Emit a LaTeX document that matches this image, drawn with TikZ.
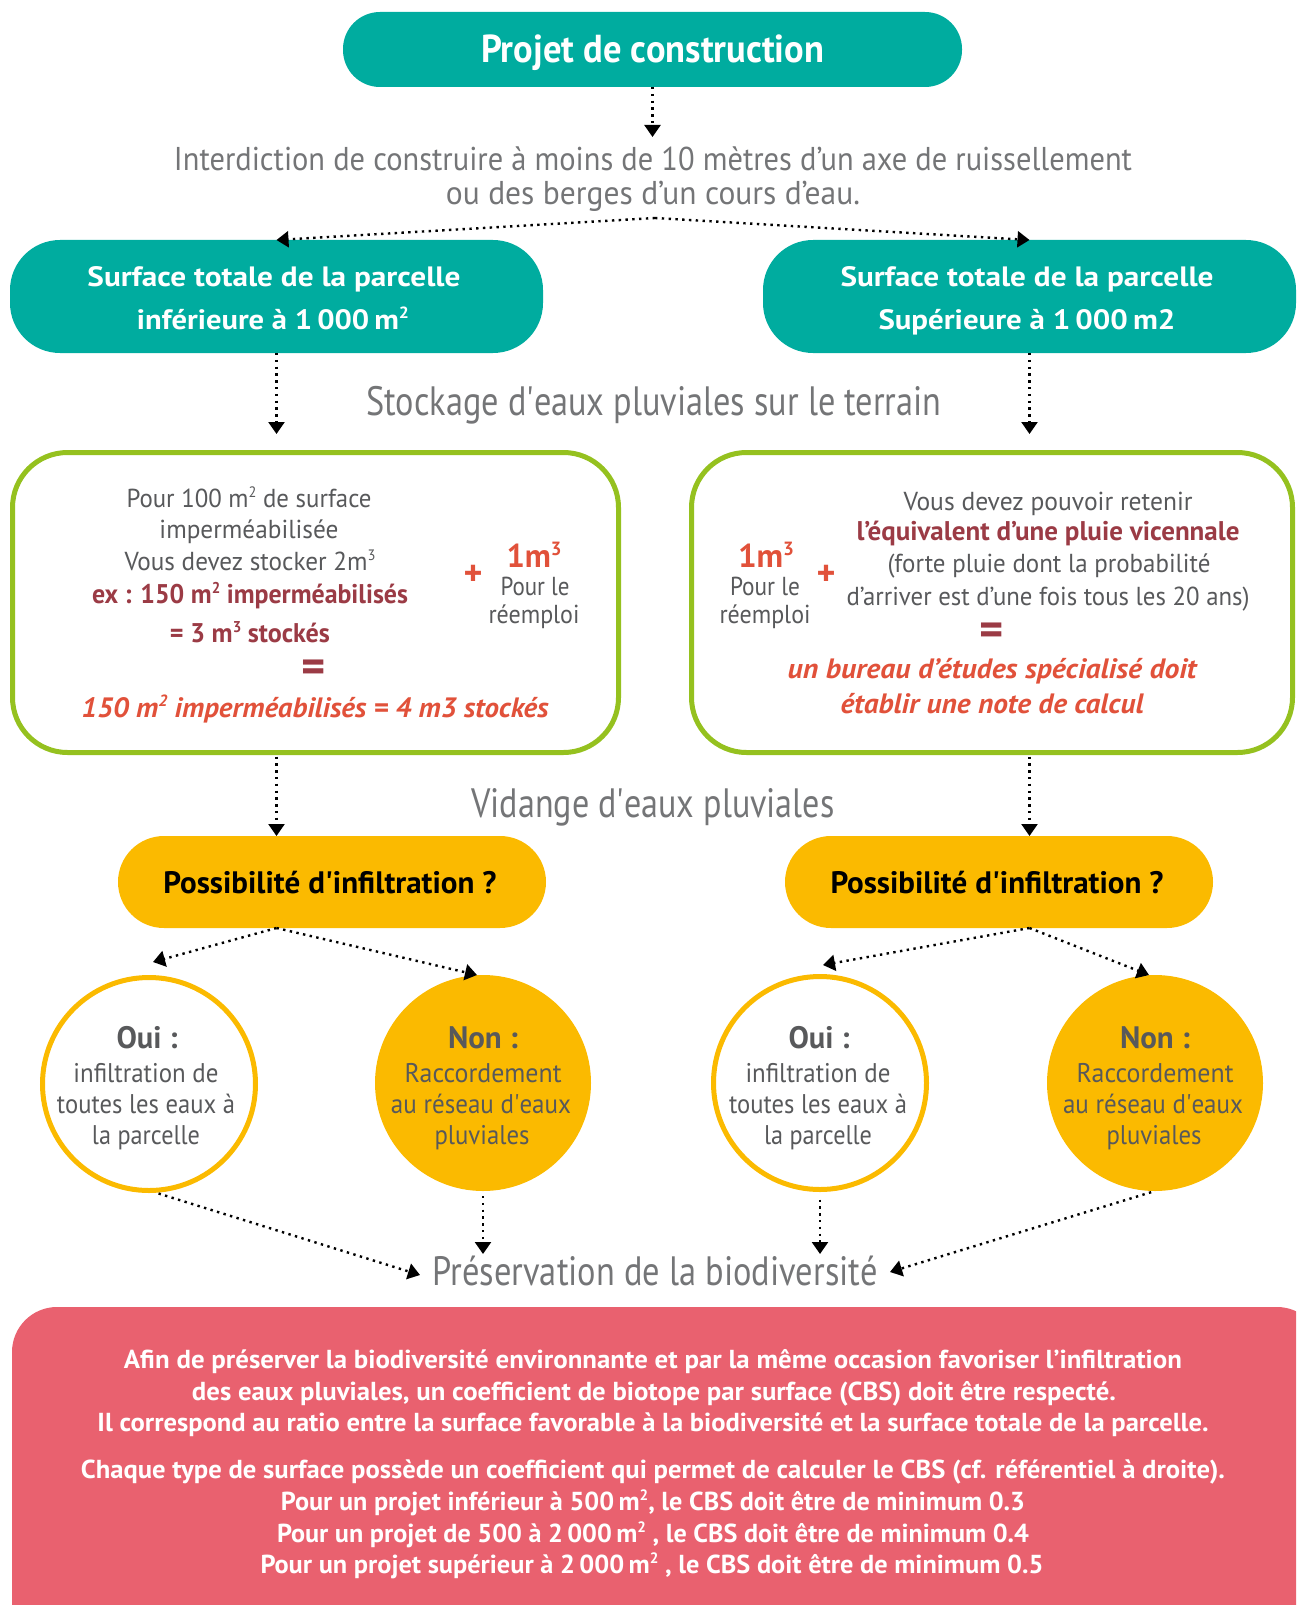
\documentclass[tikz,border=0pt]{standalone}
\usepackage{graphicx}
\usepackage{fontspec}
\setmainfont{PT Sans}
\usetikzlibrary{arrows.meta}
\definecolor{cteal}{HTML}{00AC9F}
\definecolor{cgreen}{HTML}{95C11F}
\definecolor{cyellow}{HTML}{FBBA00}
\definecolor{cpink}{HTML}{E9616F}
\definecolor{cdred}{HTML}{9B3B45}
\definecolor{cred}{HTML}{E1513A}
\definecolor{cgray}{HTML}{58595B}
\definecolor{clgray}{HTML}{747577}
\newcommand{\fw}[2]{\resizebox{#1pt}{\height}{#2}}
\newcommand{\fsz}[1]{\fontsize{#1}{#1}\selectfont}
\newcommand{\mysq}{\textquotesingle}
\newcommand{\sups}[1]{\raisebox{0.36em}{\scalebox{0.58}{#1}}}
\begin{document}
\begin{tikzpicture}[x=1pt,y=-1pt,
  every node/.style={inner sep=0pt, outer sep=0pt},
  dotarrow/.style={line width=2.4pt, dash pattern=on 2.4pt off 4.4pt, -{Triangle[length=12pt,width=16pt]}},
  lbl/.style={anchor=base},
  head/.style={lbl, text=clgray, font=\fsz{41}},
  body/.style={lbl, text=cgray, font=\fsz{26}},
  cbody/.style={lbl, text=cgray, font=\fsz{27}},
  ctitle/.style={lbl, text=cgray, font=\fsz{31}\bfseries},
  tealtxt/.style={lbl, text=white, font=\fsz{28}\bfseries},
  dredtxt/.style={lbl, text=cdred, font=\fsz{27}\bfseries},
  redit/.style={lbl, text=cred, font=\fsz{28}\bfseries\itshape},
  pinktxt/.style={lbl, text=white, font=\fsz{26}\bfseries},
  tealbox/.style={fill=cteal},
  greenbox/.style={draw=cgreen, line width=5pt, fill=white, rounded corners=55pt, minimum height=300pt},
  yellowpill/.style={fill=cyellow, minimum width=428pt, minimum height=92pt, rounded corners=46pt},
  ocircle/.style={circle, draw=cyellow, line width=5pt, fill=white, minimum size=213pt},
  ncircle/.style={circle, fill=cyellow, minimum size=216pt},
  bignum/.style={lbl, text=cred, font=\fsz{33}\bfseries},
  plussign/.style={text=cred, font=\fsz{36}\bfseries},
  eqsign/.style={lbl, text=cdred, font=\fsz{46}\bfseries}
]
\useasboundingbox (0,0) rectangle (1296,1605);
\clip (0,0) rectangle (1296,1605);

% ---------- top ----------
\node[tealbox, minimum width=619pt, minimum height=75pt, rounded corners=37pt] (proj) at (652.5,49.5) {};
\node[lbl, text=white, font=\fsz{39}\bfseries] (projt) at (652.5,63) {\fw{343}{Projet de construction}};

\node[lbl, text=clgray, font=\fsz{33}] (int1) at (653,171) {\fw{958}{Interdiction de construire à moins de 10 mètres d’un axe de ruissellement}};
\node[lbl, text=clgray, font=\fsz{33}] (int2) at (653,205) {\fw{414}{ou des berges d’un cours d’eau.}};
\coordinate (a1e) at (652.5,137);
\coordinate (ia) at (655,218);

% ---------- teal boxes ----------
\node[tealbox, minimum width=533pt, minimum height=113pt, rounded corners=50pt] (tl) at (276.5,296.5) {};
\node[tealtxt] (tl1) at (274,286) {\fw{373}{Surface totale de la parcelle}};
\node[tealtxt] (tl2) at (273,329) {\fw{272}{inférieure à 1\,000\,m\sups{2}}};
\node[tealbox, minimum width=533pt, minimum height=113pt, rounded corners=50pt] (tr) at (1029.5,296.5) {};
\node[tealtxt] (tr1) at (1027,286) {\fw{373}{Surface totale de la parcelle}};
\node[tealtxt] (tr2) at (1027,329) {\fw{297}{Supérieure à 1\,000\,m2}};

\node[head] (stock) at (654,415) {\fw{575}{Stockage d\mysq eaux pluviales sur le terrain}};
\coordinate (sl) at (276.5,434);
\coordinate (sr) at (1029.5,434);

% ---------- green boxes ----------
\node[greenbox, minimum width=606pt] (gl) at (315.5,602.5) {};
\node[greenbox, minimum width=601pt] (gr) at (992,602.5) {};

\node[body] (glA1) at (249,507) {\fw{245}{Pour 100 m\sups{2} de surface}};
\node[body] (glA2) at (249,538) {\fw{179}{imperméabilisée}};
\node[body] (glA3) at (250,570) {\fw{251}{Vous devez stocker 2m\sups{3}}};
\node[dredtxt] (glB1) at (250,603) {\fw{316}{ex : 150 m\sups{2} imperméabilisés}};
\node[dredtxt] (glB2) at (250,642) {\fw{160}{= 3 m\sups{3} stockés}};
\node[eqsign] (gleq) at (314,682) {=};
\node[redit] (glC) at (315,717) {\fw{467}{150 m\sups{2} imperméabilisés = 4 m3 stockés}};
\node[plussign] (glplus) at (473,575) {+};
\node[bignum] (gl1m) at (534,567) {\fw{55}{1m\sups{3}}};
\node[body] (glp1) at (535,595) {\fw{69}{Pour le}};
\node[body] (glp2) at (534,623) {\fw{91}{réemploi}};

\node[bignum] (gr1m) at (766,567) {\fw{56}{1m\sups{3}}};
\node[body] (grp1) at (765,595) {\fw{70}{Pour le}};
\node[body] (grp2) at (765,623) {\fw{91}{réemploi}};
\node[plussign] (grplus) at (826,575) {+};
\node[body] (grA) at (1048,510) {\fw{289}{Vous devez pouvoir retenir}};
\node[dredtxt] (grB) at (1048,540) {\fw{383}{l’équivalent d’une pluie vicennale}};
\node[body] (grC1) at (1049,572) {\fw{323}{(forte pluie dont la probabilité}};
\node[body] (grC2) at (1048,605) {\fw{403}{d’arriver est d’une fois tous les 20 ans)}};
\node[eqsign] (greq) at (992,645) {=};
\node[redit] (grD1) at (992,678) {\fw{409}{un bureau d’études spécialisé doit}};
\node[redit] (grD2) at (992,713) {\fw{303}{établir une note de calcul}};

\node[head] (vid) at (653,817) {\fw{363}{Vidange d\mysq eaux pluviales}};

% ---------- yellow pills ----------
\node[yellowpill] (yl) at (332,882) {};
\node[lbl, text=black, font=\fsz{31}\bfseries] (ylt) at (330,893) {\fw{333}{Possibilité d\mysq infiltration ?}};
\node[yellowpill] (yr) at (999,882) {};
\node[lbl, text=black, font=\fsz{31}\bfseries] (yrt) at (997,893) {\fw{333}{Possibilité d\mysq infiltration ?}};

% ---------- circles ----------
\node[ocircle] (ol) at (149,1084) {};
\node[ctitle] (olt) at (147,1048) {\fw{61}{Oui :}};
\node[cbody] (ol1) at (146,1082) {\fw{145}{infiltration de}};
\node[cbody] (ol2) at (146,1113) {\fw{178}{toutes les eaux à}};
\node[cbody] (ol3) at (146,1144) {\fw{108}{la parcelle}};

\node[ncircle] (nl) at (483,1083) {};
\node[ctitle] (nlt) at (483,1048) {\fw{70}{Non :}};
\node[cbody] (nl1) at (483,1082) {\fw{157}{Raccordement}};
\node[cbody] (nl2) at (481,1113) {\fw{180}{au réseau d\mysq eaux}};
\node[cbody] (nl3) at (482,1144) {\fw{95}{pluviales}};

\node[ocircle] (or) at (820,1083) {};
\node[ctitle] (ort) at (819,1048) {\fw{61}{Oui :}};
\node[cbody] (or1) at (818,1082) {\fw{145}{infiltration de}};
\node[cbody] (or2) at (818,1113) {\fw{178}{toutes les eaux à}};
\node[cbody] (or3) at (818,1144) {\fw{108}{la parcelle}};

\node[ncircle] (nr) at (1155,1083) {};
\node[ctitle] (nrt) at (1155,1048) {\fw{70}{Non :}};
\node[cbody] (nr1) at (1155,1082) {\fw{157}{Raccordement}};
\node[cbody] (nr2) at (1153,1113) {\fw{180}{au réseau d\mysq eaux}};
\node[cbody] (nr3) at (1154,1144) {\fw{95}{pluviales}};

\node[head] (pres) at (655,1285) {\fw{445}{Préservation de la biodiversité}};

% ---------- pink box ----------
\node[fill=cpink, minimum width=1310pt, minimum height=400pt, rounded corners=45pt, anchor=north west] (pk) at (12,1307) {};
\node[pinktxt] (p1) at (653,1368) {\fw{1058}{Afin de préserver la biodiversité environnante et par la même occasion favoriser l’infiltration}};
\node[pinktxt] (p2) at (654,1400) {\fw{924}{des eaux pluviales, un coefficient de biotope par surface (CBS) doit être respecté.}};
\node[pinktxt] (p3) at (653,1431) {\fw{1111}{Il correspond au ratio entre la surface favorable à la biodiversité et la surface totale de la parcelle.}};
\node[pinktxt] (p4) at (653,1478) {\fw{1144}{Chaque type de surface possède un coefficient qui permet de calculer le CBS (cf. référentiel à droite).}};
\node[pinktxt] (p5) at (653,1510) {\fw{744}{Pour un projet inférieur à 500\,m\sups{2}, le CBS doit être de minimum 0.3}};
\node[pinktxt] (p6) at (653,1542) {\fw{752}{Pour un projet de 500 à 2\,000\,m\sups{2} , le CBS doit être de minimum 0.4}};
\node[pinktxt] (p7) at (652,1573) {\fw{783}{Pour un projet supérieur à 2\,000\,m\sups{2} , le CBS doit être de minimum 0.5}};

% ---------- connectors ----------
\coordinate (oltip) at (153,962);
\coordinate (nltip) at (477,975);
\coordinate (ortip) at (823,965);
\coordinate (nrtip) at (1149,975);
\coordinate (presl) at (420,1275);
\coordinate (nlb) at (483,1254);
\coordinate (orb) at (820,1254);
\coordinate (presr) at (890,1272);

\draw[dotarrow] (proj.south) -- (a1e);
\draw[dotarrow] (ia) -- (tl.north);
\draw[dotarrow] (ia) -- (tr.north);
\draw[dotarrow] (tl.south) -- (sl);
\draw[dotarrow] (tr.south) -- (sr);
\draw[dotarrow, shorten <=4pt] (gl.south -| tl.south) -- (yl.north -| tl.south);
\draw[dotarrow, shorten <=4pt] (gr.south -| tr.south) -- (yr.north -| tr.south);
\draw[dotarrow] (yl.south -| tl.south) -- (oltip);
\draw[dotarrow] (yl.south -| tl.south) -- (nltip);
\draw[dotarrow] (yr.south -| tr.south) -- (ortip);
\draw[dotarrow] (yr.south -| tr.south) -- (nrtip);
\draw[dotarrow, shorten <=10pt] (ol.south) -- (presl);
\draw[dotarrow, shorten <=5pt] (nl.south) -- (nlb);
\draw[dotarrow, shorten <=10pt] (or.south) -- (orb);
\draw[dotarrow, shorten <=4pt] (nr.south) -- (presr);
\end{tikzpicture}
\end{document}
